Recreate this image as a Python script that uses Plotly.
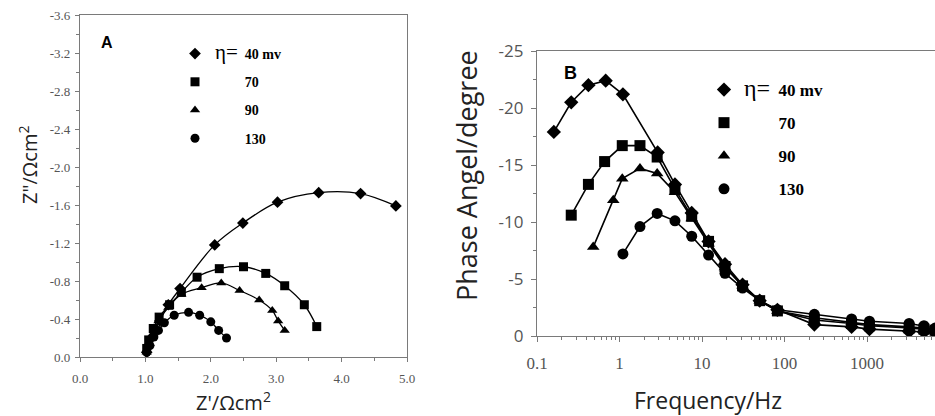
import plotly.graph_objects as go

# ---------------- data ----------------
labels = ["40 mv", "70", "90", "130"]
symbols = ["diamond", "square", "triangle-up", "circle"]

# Panel A: Nyquist (Z' , -Z'')
zre = {
    "40 mv": [1.02, 1.05, 1.09, 1.15, 1.22, 1.35, 1.53, 2.06, 2.49, 3.02, 3.65, 4.29, 4.83],
    "70":    [1.02, 1.05, 1.12, 1.21, 1.37, 1.55, 1.79, 2.13, 2.50, 2.84, 3.13, 3.43, 3.62],
    "90":    [1.02, 1.06, 1.12, 1.20, 1.35, 1.55, 1.86, 2.16, 2.44, 2.74, 2.94, 3.03, 3.13],
    "130":   [1.02, 1.07, 1.13, 1.20, 1.29, 1.44, 1.66, 1.83, 2.00, 2.12, 2.24],
}
zim = {
    "40 mv": [-0.05, -0.12, -0.20, -0.28, -0.38, -0.55, -0.72, -1.18, -1.41, -1.63, -1.73, -1.72, -1.59],
    "70":    [-0.09, -0.18, -0.30, -0.42, -0.55, -0.68, -0.84, -0.93, -0.95, -0.88, -0.75, -0.55, -0.32],
    "90":    [-0.05, -0.14, -0.25, -0.38, -0.52, -0.66, -0.73, -0.78, -0.70, -0.60, -0.49, -0.38, -0.28],
    "130":   [-0.05, -0.12, -0.21, -0.28, -0.36, -0.44, -0.47, -0.44, -0.37, -0.28, -0.20],
}

# Panel B: Bode phase
freq = {
    "40 mv": [0.16, 0.26, 0.42, 0.68, 1.1, 2.9, 4.7, 7.5, 12, 19, 31, 50, 82, 230, 650, 1070, 3240, 4900, 6700],
    "70":    [0.26, 0.42, 0.66, 1.08, 1.77, 2.86, 4.7, 7.5, 12, 19, 31, 50, 82, 230, 650, 1070, 3240, 4900, 6700],
    "90":    [0.48, 0.84, 1.08, 1.77, 2.86, 4.7, 7.5, 12, 19, 31, 50, 82, 230, 650, 1070, 3240, 4900, 6700],
    "130":   [1.1, 1.77, 2.86, 4.7, 7.5, 12, 19, 31, 50, 82, 230, 650, 1070, 3240, 4900, 6700],
}
phase = {
    "40 mv": [-17.9, -20.5, -22.0, -22.4, -21.2, -16.1, -13.3, -10.8, -8.3, -6.3, -4.5, -3.1, -2.3, -1.0, -0.8, -0.6, -0.4, -0.35, -0.3],
    "70":    [-10.6, -13.3, -15.3, -16.7, -16.7, -15.7, -12.9, -10.5, -8.3, -6.1, -4.4, -3.1, -2.2, -1.4, -1.1, -0.9, -0.7, -0.6, -0.5],
    "90":    [-7.8, -11.9, -13.8, -14.7, -14.25, -12.6, -10.3, -8.1, -6.0, -4.4, -3.1, -2.2, -1.6, -1.2, -1.0, -0.8, -0.7, -0.6],
    "130":   [-7.2, -9.6, -10.75, -10.1, -8.75, -7.1, -5.5, -4.2, -3.1, -2.3, -1.9, -1.5, -1.3, -1.1, -0.9, -0.7],
}

xticks_a = [0, 1, 2, 3, 4, 5]
yticks_a = [0, -0.4, -0.8, -1.2, -1.6, -2.0, -2.4, -2.8, -3.2, -3.6]
xticks_b = [0.1, 1, 10, 100, 1000]
yticks_b = [0, -5, -10, -15, -20, -25]
minor_b = [m * 10.0 ** e for e in range(-1, 4) for m in range(2, 10)]

# ---------------- figure ----------------
W, H = 935, 416
fig = go.Figure()


def legend_name(i, lab, eta_size):
    if i == 0:
        pre = "<span style='font-size:%dpx'>η=</span>" % eta_size
    else:
        pre = "<span style='font-size:%dpx;color:rgba(0,0,0,0)'>η=</span>" % eta_size
    return pre + " &nbsp;<b>" + lab + "</b>"


for i, lab in enumerate(labels):
    fig.add_trace(go.Scatter(x=zre[lab], y=zim[lab], mode="lines",
                             line=dict(color="black", width=1.3, shape="spline", smoothing=1.0),
                             showlegend=False, hoverinfo="skip", xaxis="x", yaxis="y"))
    fig.add_trace(go.Scatter(x=zre[lab], y=zim[lab], mode="markers",
                             marker=dict(symbol=symbols[i], color="black", size=9),
                             name=legend_name(i, lab, 21), legendgroup="a" + str(i),
                             legend="legend", xaxis="x", yaxis="y"))

for i, lab in enumerate(labels):
    fig.add_trace(go.Scatter(x=freq[lab], y=phase[lab], mode="lines",
                             line=dict(color="black", width=1.6),
                             showlegend=False, hoverinfo="skip", xaxis="x2", yaxis="y2"))
    fig.add_trace(go.Scatter(x=freq[lab], y=phase[lab], mode="markers",
                             marker=dict(symbol=symbols[i], color="black", size=11),
                             name=legend_name(i, lab, 24), legendgroup="b" + str(i),
                             legend="legend2", xaxis="x2", yaxis="y2"))

axis_col = "#7a7a7a"
tick_col = "#555555"


def px(x):
    return x / W


def py(y):
    return 1 - y / H


fig.update_layout(
    width=W, height=H,
    margin=dict(l=0, r=0, t=0, b=0, pad=0, autoexpand=False),
    paper_bgcolor="white", plot_bgcolor="white",
    xaxis=dict(domain=[px(80), px(407)], range=[0, 5], tickvals=xticks_a,
               ticktext=["%.1f" % v for v in xticks_a], automargin=False,
               ticks="outside", ticklen=4, tickcolor=axis_col, ticklabelstandoff=5,
               minor=dict(dtick=0.5, ticks="outside", ticklen=3, tickcolor=axis_col),
               showline=True, linecolor=axis_col, linewidth=1.3, mirror=True,
               showgrid=False, zeroline=False,
               tickfont=dict(family="Liberation Serif", size=13, color=tick_col),
               anchor="y"),
    yaxis=dict(domain=[py(357), py(15)], range=[0, -3.6], tickvals=yticks_a,
               ticktext=["%.1f" % v if v != 0 else "0.0" for v in yticks_a], automargin=False,
               ticks="outside", ticklen=4, tickcolor=axis_col, ticklabelstandoff=2,
               minor=dict(dtick=0.2, ticks="outside", ticklen=3, tickcolor=axis_col),
               showline=True, linecolor=axis_col, linewidth=1.3, mirror=True,
               showgrid=False, zeroline=False,
               tickfont=dict(family="Liberation Serif", size=13, color=tick_col),
               anchor="x"),
    xaxis2=dict(domain=[px(537), 1.0], type="log", range=[-1, 3.824],
                tickvals=xticks_b, ticktext=[str(v) for v in xticks_b], automargin=False,
                ticks="outside", ticklen=5, tickcolor=axis_col, ticklabelstandoff=6,
                minor=dict(tickvals=minor_b, ticks="outside", ticklen=3, tickcolor=axis_col),
                showline=True, linecolor=axis_col, linewidth=1.3, mirror=True,
                showgrid=False, zeroline=False,
                tickfont=dict(family="Liberation Serif", size=17, color=tick_col),
                anchor="y2"),
    yaxis2=dict(domain=[py(336), py(51)], range=[0, -25], tickvals=yticks_b,
                ticktext=[str(v) for v in yticks_b], automargin=False,
                ticks="outside", ticklen=5, tickcolor=axis_col, ticklabelstandoff=4,
                minor=dict(dtick=2.5, ticks="outside", ticklen=3, tickcolor=axis_col),
                showline=True, linecolor=axis_col, linewidth=1.3,
                showgrid=False, zeroline=False,
                tickfont=dict(family="Open Sans", size=17, color=tick_col),
                anchor="x2"),
    legend=dict(x=px(175), y=py(38), xanchor="left", yanchor="top",
                font=dict(family="Liberation Serif", size=14, color="black"),
                bgcolor="rgba(0,0,0,0)", tracegroupgap=7, itemwidth=30),
    legend2=dict(x=px(704), y=py(72), xanchor="left", yanchor="top",
                 font=dict(family="Liberation Serif", size=17, color="black"),
                 bgcolor="rgba(0,0,0,0)", tracegroupgap=8, itemwidth=30),
    annotations=[
        dict(text="<b>A</b>", x=px(107), y=py(43), xref="paper", yref="paper",
             xanchor="center", yanchor="middle",
             showarrow=False, font=dict(family="Liberation Sans", size=16, color="black")),
        dict(text="<b>B</b>", x=px(570), y=py(73), xref="paper", yref="paper",
             xanchor="center", yanchor="middle",
             showarrow=False, font=dict(family="Liberation Sans", size=18, color="black")),
        dict(text="Z'/Ωcm<sup>2</sup>", x=px(233), y=py(401), xref="paper", yref="paper",
             xanchor="center", yanchor="middle",
             showarrow=False, font=dict(family="Open Sans", size=20, color="#222")),
        dict(text="Z\"/Ωcm<sup>2</sup>", x=px(28), y=py(165), xref="paper", yref="paper",
             xanchor="center", yanchor="middle",
             showarrow=False, textangle=-90, font=dict(family="Open Sans", size=20, color="#222")),
        dict(text="Frequency/Hz", x=px(708), y=py(400), xref="paper", yref="paper",
             xanchor="center", yanchor="middle",
             showarrow=False, font=dict(family="Open Sans", size=23, color="#222")),
        dict(text="Phase Angel/degree", x=px(466), y=py(176), xref="paper", yref="paper",
             xanchor="center", yanchor="middle",
             showarrow=False, textangle=-90, font=dict(family="Open Sans", size=27, color="#222")),
    ],
)

fig.write_html("out.html")
